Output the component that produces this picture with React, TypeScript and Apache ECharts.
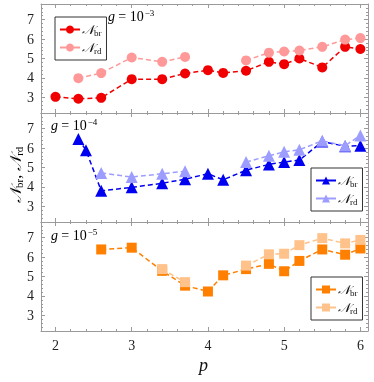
import React, { useEffect, useRef } from "react";
import * as echarts from "echarts";

// ---- data ----
const p1br = [2.0, 2.3, 2.6, 3.0, 3.4, 3.7, 4.0, 4.2, 4.5, 4.8, 5.0, 5.2, 5.5, 5.8, 6.0];
const br1 = [3.03, 2.93, 2.98, 3.94, 3.94, 4.23, 4.4, 4.26, 4.37, 4.83, 4.71, 5.0, 4.54, 5.6, 5.49];
const p1rd = [2.3, 2.6, 3.0, 3.4, 3.7, 4.0, 4.5, 4.8, 5.0, 5.2, 5.5, 5.8, 6.0];
const rd1 = [3.99, 4.25, 5.05, 4.83, 5.08, null, 4.9, 5.3, 5.36, 5.41, 5.6, 5.97, 6.05];

const p2br = [2.3, 2.4, 2.6, 3.0, 3.4, 3.7, 4.0, 4.2, 4.5, 4.8, 5.0, 5.2, 5.5, 5.8, 6.0];
const br2 = [6.47, 5.89, 3.8, 3.98, 4.19, 4.4, 4.68, 4.37, 4.86, 5.16, 5.28, 5.38, 6.33, 6.09, 6.12];
const p2rd = [2.6, 3.0, 3.4, 3.7, 4.0, 4.5, 4.8, 5.0, 5.2, 5.5, 5.8, 6.0];
const rd2 = [4.72, 4.51, 4.68, 4.81, null, 5.28, 5.6, 5.81, 5.91, 6.37, 6.12, 6.65];

const p3br = [2.6, 3.0, 3.4, 3.7, 4.0, 4.2, 4.5, 4.8, 5.0, 5.2, 5.5, 5.8, 6.0];
const br3 = [6.39, 6.48, 5.29, 4.53, 4.23, 5.06, 5.38, 5.65, 5.27, 5.8, 6.39, 6.12, 6.44];
const p3rd = [3.4, 3.7, 4.0, 4.5, 4.8, 5.0, 5.2, 5.5, 5.8, 6.0];
const rd3 = [5.38, 4.71, null, 5.56, 6.14, 6.17, 6.61, 6.97, 6.7, 6.88];

const xTicks = [2, 3, 4, 5, 6];
const yTicks = [3, 4, 5, 6, 7];
const gLabels = ["−3", "−4", "−5"];

const SERIF = "Liberation Serif";
const FRAME = "#9a9a9a";

function minorValues(lo: number, hi: number, step: number) {
  const out: number[] = [];
  for (let k = Math.ceil(lo / step - 1e-9); k * step <= hi + 1e-9; k++) {
    const v = Math.round(k * step * 100) / 100;
    if (Math.abs(v - Math.round(v)) > 1e-6) out.push(v);
  }
  return out;
}

export default function App() {
  const ref = useRef<HTMLDivElement>(null);
  useEffect(() => {
    if (!ref.current) return;
    const chart = echarts.init(ref.current, null, { renderer: "svg" });
    const XMIN = 1.81, XMAX = 6.1, YMIN = 2.2, YMAX = 7.8;
    const xMinor = minorValues(XMIN, XMAX, 0.2);
    const yMinor = minorValues(YMIN, YMAX, 0.2);
    const tops = [4, 113, 222];
    const H = 109;
    const grids = tops.map((t) => ({ left: 41, right: 6, top: t, height: H }));
    const xAxes: any[] = [];
    const yAxes: any[] = [];
    for (let i = 0; i < 3; i++) {
      for (const pos of ["bottom", "top"]) {
        for (const major of [true, false]) {
          xAxes.push({
            gridIndex: i, type: "value", min: XMIN, max: XMAX, position: pos,
            axisLine: { show: major, onZero: false, lineStyle: { color: FRAME, width: 1 } },
            axisTick: { show: true, inside: true, length: major ? 4 : 2, customValues: major ? xTicks : xMinor, lineStyle: { color: FRAME } },
            axisLabel: { show: major && pos === "bottom" && i === 2, customValues: xTicks, fontFamily: SERIF, fontSize: 14, color: "#222", margin: 7 },
            splitLine: { show: false },
          });
        }
      }
      for (const pos of ["left", "right"]) {
        for (const major of [true, false]) {
          yAxes.push({
            gridIndex: i, type: "value", min: YMIN, max: YMAX, position: pos,
            axisLine: { show: major, onZero: false, lineStyle: { color: FRAME, width: 1 } },
            axisTick: { show: true, inside: true, length: major ? 4 : 2, customValues: major ? yTicks : yMinor, lineStyle: { color: FRAME } },
            axisLabel: { show: major && pos === "left", customValues: yTicks, fontFamily: SERIF, fontSize: 14, color: "#222", margin: 7 },
            splitLine: { show: false },
          });
        }
      }
    }
    const zip = (p: number[], v: (number | null)[]) => p.map((x, k) => [x, v[k] === null ? "-" : v[k]]);
    const mk = (name: string, i: number, p: number[], v: (number | null)[], color: string, symbol: string, size: number, z: number) => ({
      name, type: "line", xAxisIndex: 4 * i, yAxisIndex: 4 * i,
      data: zip(p, v), symbol, symbolSize: size, connectNulls: false,
      lineStyle: { color, width: 1.5, type: [5, 3] },
      itemStyle: { color, borderWidth: 0 }, z,
    });
    const series = [
      mk("br1", 0, p1br, br1, "#f00000", "circle", 10, 3),
      mk("rd1", 0, p1rd, rd1, "#ff9999", "circle", 10, 4),
      mk("br2", 1, p2br, br2, "#0000f0", "triangle", 12, 3),
      mk("rd2", 1, p2rd, rd2, "#9d9dff", "triangle", 12, 4),
      mk("br3", 2, p3br, br3, "#ff8000", "rect", 10, 3),
      mk("rd3", 2, p3rd, rd3, "#ffc28a", "rect", 10, 4),
    ];
    const rich = {
      n: { fontFamily: "DejaVu Serif", fontSize: 13, color: "#111", fontStyle: "italic" },
      s: { fontFamily: SERIF, fontSize: 9, color: "#111", padding: [6, 0, 0, 0] },
    };
    const legend = (names: string[], left: number, top: number) => ({
      data: names, left, top, orient: "vertical",
      borderColor: "#333", borderWidth: 1, padding: [6, 5, 5, 4], itemGap: 4,
      itemWidth: 20, itemHeight: 10, selectedMode: false,
      lineStyle: { type: "solid" },
      formatter: (n: string) => (n.startsWith("br") ? "{n|𝒩}{s|br}" : "{n|𝒩}{s|rd}"),
      textStyle: { rich, padding: [0, 0, 0, -3] },
    });
    const gText = (x: number, y: number, e: string) => ({
      type: "text", x, y,
      style: {
        text: "{g|g} {t|= 10}{e|" + e + "}",
        rich: {
          g: { fontFamily: SERIF, fontStyle: "italic", fontSize: 14, color: "#111" },
          t: { fontFamily: SERIF, fontSize: 14, color: "#111" },
          e: { fontFamily: SERIF, fontSize: 9, color: "#111", padding: [0, 0, 8, 1] },
        },
      },
    });
    chart.setOption({
      animation: false,
      grid: grids,
      xAxis: xAxes,
      yAxis: yAxes,
      series,
      legend: [
        legend(["br1", "rd1"], 55, 17),
        legend(["br2", "rd2"], 311, 168),
        legend(["br3", "rd3"], 311, 277),
      ],
      graphic: [
        gText(108, 8, gLabels[0]),
        gText(51, 117, gLabels[1]),
        gText(51, 227, gLabels[2]),
        {
          type: "text", x: 6, y: 203, rotation: Math.PI / 2,
          style: {
            text: "{n|𝒩}{s|br}{c|, }{n|𝒩}{s|rd}",
            rich: {
              n: { fontFamily: "DejaVu Serif", fontSize: 16, color: "#111", fontStyle: "italic" },
              s: { fontFamily: SERIF, fontSize: 11, color: "#111", padding: [7, 0, 0, 0] },
              c: { fontFamily: SERIF, fontSize: 16, color: "#111" },
            },
          },
        },
        {
          type: "text", x: 199, y: 356,
          style: { text: "p", fontFamily: SERIF, fontStyle: "italic", fontSize: 18, fill: "#111" },
        },
      ],
    });
    return () => chart.dispose();
  }, []);
  return <div ref={ref} style={{ position: "fixed", left: 0, top: 0, width: 374, height: 382 }} />;
}
